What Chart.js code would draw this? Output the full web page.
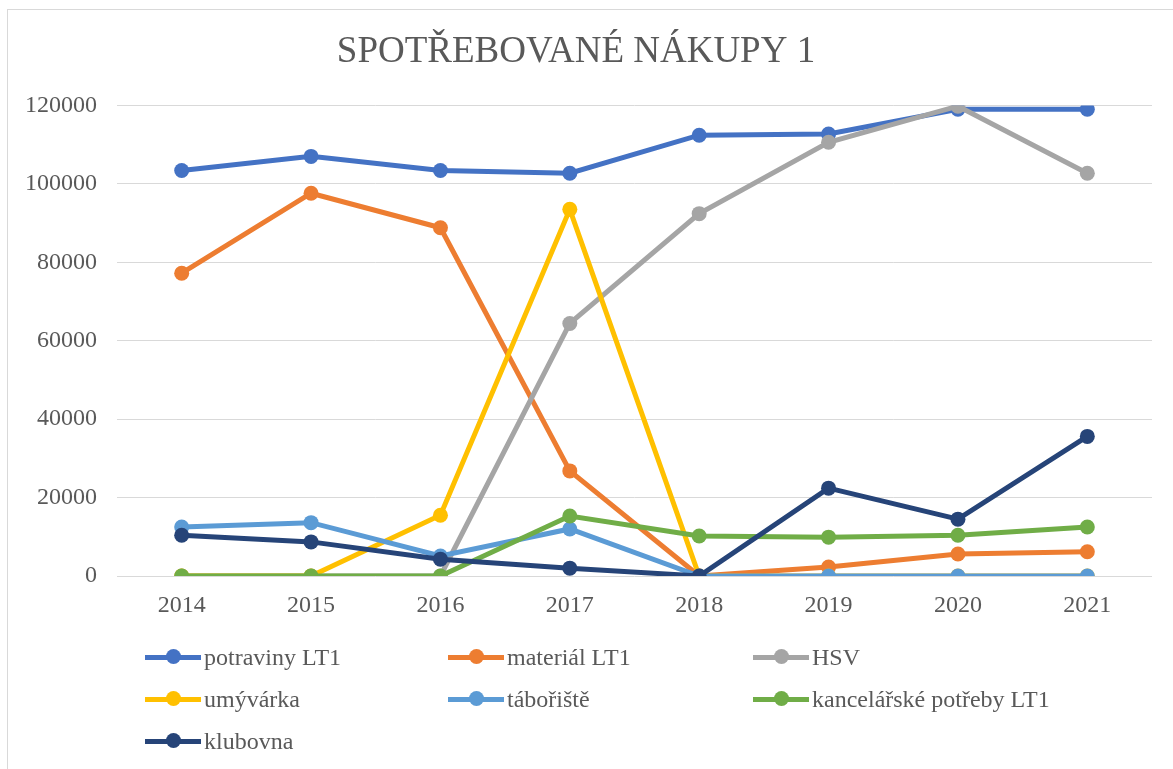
<!DOCTYPE html>
<html>
<head>
<meta charset="utf-8">
<script src="https://cdn.jsdelivr.net/npm/chart.js@4"></script>
<style>
  html, body { margin: 0; padding: 0; background: #fff; }
  body { width: 1173px; height: 769px; position: relative; overflow: hidden; font-family: "Liberation Serif", "Times New Roman", serif; }
  #frame { position: absolute; left: 7px; top: 9px; width: 1200px; height: 800px; border: 1px solid #d9d9d9; }
  #wrap { position: absolute; left: 0; top: 0; width: 1173px; height: 640px; }
  #legend { position: absolute; left: 0; top: 0; width: 1173px; height: 769px; pointer-events: none; }
  .item { position: absolute; height: 24px; display: flex; align-items: center; font-size: 24px; color: #595959; white-space: nowrap; }
  .mark { position: relative; width: 56px; height: 16px; margin-right: 3px; }
  .mark .ln { position: absolute; left: 0; right: 0; top: 5.5px; height: 5px; }
  .mark .dot { position: absolute; left: 20.5px; top: 0; width: 15px; height: 15px; border-radius: 50%; }
</style>
</head>
<body>
<div id="frame"></div>
<div id="wrap"><canvas id="chart" width="1173" height="640"></canvas></div>
<div id="legend"></div>
<script>
// === Data ===
const years = ["2014", "2015", "2016", "2017", "2018", "2019", "2020", "2021"];
const seriesNames = ["potraviny LT1", "materiál LT1", "HSV", "umývárka", "tábořiště", "kancelářské potřeby LT1", "klubovna"];
const seriesColors = ["#4472C4", "#ED7D31", "#A5A5A5", "#FFC000", "#5B9BD5", "#70AD47", "#264478"];

const potraviny  = [103400, 107000, 103400, 102700, 112400, 112700, 119000, 119000];
const material   = [77200, 97600, 88800, 26800, 0, 2300, 5600, 6200];
const hsv        = [0, 0, 0, 64400, 92400, 110600, 119800, 102700];
const umyvarka   = [0, 0, 15500, 93500, 0, 0, 0, 0];
const taboriste  = [12500, 13600, 5100, 12000, 0, 0, 0, 0];
const kancelar   = [0, 0, 0, 15300, 10200, 9900, 10400, 12500];
const klubovna   = [10400, 8700, 4300, 2000, 0, 22400, 14500, 35600];

const seriesValues = [potraviny, material, hsv, umyvarka, taboriste, kancelar, klubovna];
const yTicks = [0, 20000, 40000, 60000, 80000, 100000, 120000];

const textColor = "#595959";
const serif = "'Liberation Serif', 'Times New Roman', serif";

// === Chart ===
const datasets = seriesValues.map((vals, i) => ({
  label: seriesNames[i],
  data: vals,
  borderColor: seriesColors[i],
  backgroundColor: seriesColors[i],
  borderWidth: 5,
  pointRadius: 7.5,
  pointHoverRadius: 7.5,
  pointBorderWidth: 0,
  tension: 0,
  order: seriesValues.length - i   // later series on top, like Excel
}));

new Chart(document.getElementById("chart"), {
  type: "line",
  data: { labels: years, datasets },
  options: {
    responsive: false,
    animation: false,
    layout: { padding: { left: 0, right: 21, top: 0, bottom: 0 } },
    plugins: {
      legend: { display: false },
      tooltip: { enabled: false },
      title: {
        display: true,
        text: "SPOTŘEBOVANÉ NÁKUPY 1",
        color: textColor,
        font: { family: serif, size: 37, weight: "normal" },
        padding: { top: 30, bottom: 31 }
      }
    },
    scales: {
      x: {
        offset: true,
        grid: { display: false, drawTicks: false },
        border: { display: false },
        ticks: { color: textColor, font: { family: serif, size: 24 }, padding: 15, maxRotation: 0 },
        afterFit: s => { s.height = 64; }
      },
      y: {
        min: 0,
        max: 120000,
        afterBuildTicks: s => { s.ticks = yTicks.map(v => ({ value: v })); },
        grid: { color: "#d9d9d9", lineWidth: 1, drawTicks: false },
        border: { display: false },
        ticks: { color: textColor, font: { family: serif, size: 24 }, padding: 20, callback: v => String(v) },
        afterFit: s => { s.width = 117; }
      }
    }
  }
});

// === Legend (3 columns) ===
const legendCols = [145, 448, 753];
const legendRows = [657, 699, 741];
const legend = document.getElementById("legend");
seriesNames.forEach((name, i) => {
  const it = document.createElement("div");
  it.className = "item";
  it.style.left = legendCols[i % 3] + "px";
  it.style.top = (legendRows[Math.floor(i / 3)] - 12) + "px";
  it.innerHTML = `<span class="mark"><span class="ln" style="background:${seriesColors[i]}"></span><span class="dot" style="background:${seriesColors[i]}"></span></span>${name}`;
  legend.appendChild(it);
});
</script>
</body>
</html>
